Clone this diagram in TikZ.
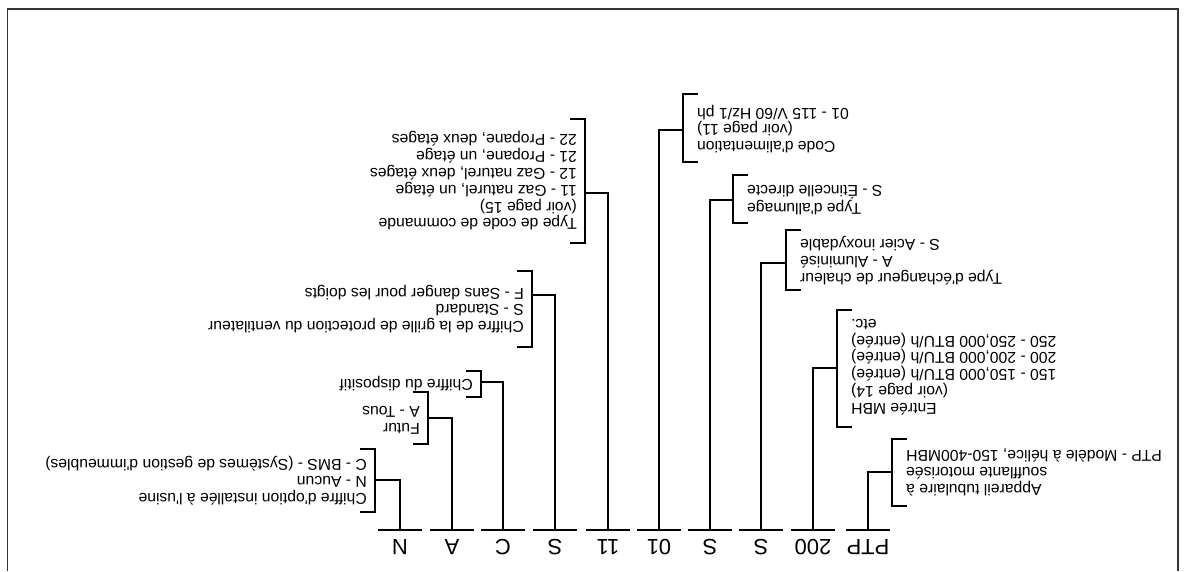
\documentclass[tikz,border=0pt]{standalone}
\usepackage{fontspec}
\setmainfont{Liberation Sans}
\newcommand{\ap}{\textquotesingle}

\tikzset{
  code/.style={font=\fontsize{22}{22}\selectfont, inner sep=0pt},
  wire/.style={line width=1.9pt},
  frame/.style={line width=1.5pt, black!80},
  descR/.style={font=\fontsize{15.7}{16.8}\selectfont, align=left, anchor=west, inner sep=0pt},
  descL/.style={font=\fontsize{15.7}{16.8}\selectfont, align=right, anchor=east, inner sep=0pt},
}

\begin{document}
\begin{tikzpicture}[x=1pt, y=1pt]
  \useasboundingbox (0,0) rectangle (1190,571);
  \begin{scope}[rotate around={180:(595,285.5)}, transform shape]
   % frame, open on top
   \draw[frame] (1182.5,571) -- (1182.5,9) -- (12,9) -- (12,571);

   % model number
   \foreach \u/\t/\n in {322/PTP/ptp, 377/200/mbh, 429/S/hx, 480/S/ign, 531/01/pwr,
                         582/11/ctl, 635/S/grl, 687/C/dev, 738/A/fut, 790/N/opt} {
     \node[code] (\n) at (\u,547) {\t};
     \coordinate (\n-top) at (\u,530);
     \draw[wire] (\u-22,530) -- (\u+22,530);
   }

   % PTP
   \coordinate (ptp-b) at (298,472);
   \draw[wire] (ptp-top) |- (ptp-b);
   \draw[wire] (283,506) -- (298,506) -- (298,439) -- (283,439);
   \node[descL] (ptp-txt) at (284,472.5) {Appareil tubulaire à\\soufflante motorisée\\PTP - Modèle à hélice, 150-400MBH};

   % MBH
   \coordinate (mbh-b) at (353,368);
   \draw[wire] (mbh-top) |- (mbh-b);
   \draw[wire] (338,427) -- (353,427) -- (353,310) -- (338,310);
   \node[descL] (mbh-txt) at (339,367) {Entrée MBH\\(voir page 14)\\150 - 150,000 BTU/h (entrée)\\200 - 200,000 BTU/h (entrée)\\250 - 250,000 BTU/h (entrée)\\etc.};

   % echangeur
   \coordinate (hx-b) at (404,263);
   \draw[wire] (hx-top) |- (hx-b);
   \draw[wire] (389,290) -- (404,290) -- (404,230) -- (389,230);
   \node[descL] (hx-txt) at (390,260.5) {Type d\ap échangeur de chaleur\\A - Aluminisé\\S - Acier inoxydable};

   % allumage
   \coordinate (ign-b) at (457,200);
   \draw[wire] (ign-top) |- (ign-b);
   \draw[wire] (442,223) -- (457,223) -- (457,175) -- (442,175);
   \node[descL] (ign-txt) at (443,200) {Type d\ap allumage\\S - Étincelle directe};

   % alimentation
   \coordinate (pwr-b) at (507,130);
   \draw[wire] (pwr-top) |- (pwr-b);
   \draw[wire] (492,162) -- (507,162) -- (507,94) -- (492,94);
   \node[descL] (pwr-txt) at (493,129) {Code d\ap alimentation\\(voir page 11)\\01 - 115 V/60 Hz/1 ph};

   % commande
   \coordinate (ctl-b) at (605,193);
   \draw[wire] (ctl-top) |- (ctl-b);
   \draw[wire] (620,243) -- (605,243) -- (605,119) -- (620,119);
   \node[descR] (ctl-txt) at (613,181) {Type de code de commande\\(voir page 15)\\11 - Gaz naturel, un étage\\12 - Gaz naturel, deux étages\\21 - Propane, un étage\\22 - Propane, deux étages};

   % grille
   \coordinate (grl-b) at (658,295);
   \draw[wire] (grl-top) |- (grl-b);
   \draw[wire] (673,347) -- (658,347) -- (658,271) -- (673,271);
   \node[descR] (grl-txt) at (666,309) {Chiffre de la grille de protection du ventilateur\\S - Standard\\F - Sans danger pour les doigts};

   % dispositif
   \coordinate (dev-b) at (709,382);
   \draw[wire] (dev-top) |- (dev-b);
   \draw[wire] (724,397) -- (709,397) -- (709,371) -- (724,371);
   \node[descR] (dev-txt) at (717,384) {Chiffre du dispositif};

   % futur
   \coordinate (fut-b) at (762,418);
   \draw[wire] (fut-top) |- (fut-b);
   \draw[wire] (777,444) -- (762,444) -- (762,392) -- (777,392);
   \node[descR] (fut-txt) at (770,420) {Futur\\A - Tous};

   % option usine
   \coordinate (opt-b) at (815,480);
   \draw[wire] (opt-top) |- (opt-b);
   \draw[wire] (830,512) -- (815,512) -- (815,449) -- (830,449);
   \node[descR] (opt-txt) at (823,480.5) {Chiffre d\ap option installée à l\ap usine\\N - Aucun\\C - BMS - (Systèmes de gestion d\ap immeubles)};
  \end{scope}
\end{tikzpicture}
\end{document}
